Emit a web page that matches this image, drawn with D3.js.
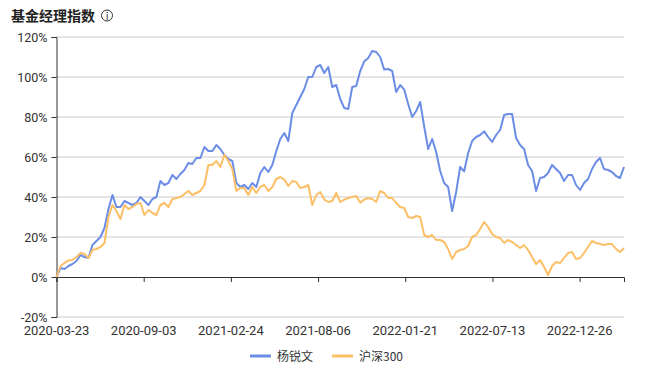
<!DOCTYPE html>
<html>
<head>
<meta charset="utf-8">
<script src="https://cdn.jsdelivr.net/npm/d3@7"></script>
<style>
  body { margin: 0; background: #fff; }
  text { font-family: "Microsoft YaHei", "Noto Sans CJK SC", "Noto Sans", sans-serif; }
  .num { font-family: Roboto, "Liberation Sans", sans-serif; }
</style>
</head>
<body>
<svg id="chart" width="652" height="374"></svg>
<script>
// tick labels on the date axis, one every 112 trading days
const dateTicks = ['2020-03-23', '2020-09-03', '2021-02-24', '2021-08-06', '2022-01-21', '2022-07-13', '2022-12-26'];
const tickEvery = 112;
const totalDays = 729;

const seriesNames = ['杨锐文', '沪深300'];

const manager = [
  0, 4.5, 4, 5.5, 6.5, 8, 11, 10, 9.5, 16,
  18, 20, 24.5, 34, 41, 35, 35, 38, 37, 36,
  37, 40, 38, 36, 39, 40, 48, 46, 47, 51,
  49, 51.5, 53.5, 57, 56.5, 59.5, 59.5, 65, 63, 63,
  66, 64, 61, 59, 58, 47, 45, 46, 44, 47,
  45, 52, 55, 52.5, 56, 63, 69, 72, 68, 82,
  86, 90, 94, 100, 100, 105, 106, 102, 105, 95,
  96, 89, 84.5, 84, 95, 95.5, 103, 107.8, 109.5, 113,
  112.5, 110, 103.7, 104, 103, 92.5, 96, 93.7, 86.5, 80,
  83, 87.5, 75.3, 64, 69, 62.5, 53, 47, 45, 33,
  42.5, 55, 52.8, 62, 68, 70, 71, 72.8, 70, 67.5,
  71, 73.5, 81, 81.5, 81.5, 69.5, 66, 64, 56, 53,
  43, 49.5, 50, 52, 56, 54, 52, 48, 51, 51,
  46, 43.5, 47, 49, 54, 57.5, 59.5, 54, 53.5, 52.5,
  50.5, 49.5, 55
];
const hs300 = [
  0, 5.5, 7, 8.3, 8.5, 10, 12, 11.5, 9.5, 13.5,
  14, 15, 17, 30, 36, 33, 29, 36, 34, 35,
  36.5, 37, 31, 33.5, 32, 31, 36, 37, 35, 39,
  39.5, 40, 41.5, 43, 41, 42, 43, 46, 56, 56,
  58, 55, 61, 58, 54, 43, 44.5, 44.5, 41, 45,
  42, 45, 46, 43, 45, 49, 50, 48.7, 45.5, 48,
  47.5, 44.5, 45, 46, 36, 41, 42.5, 38.7, 37.5, 38,
  42, 37.5, 38.7, 39.5, 40, 40.5, 37.2, 38.7, 39.5, 39,
  37.5, 43, 42, 39.5, 39.5, 37, 35, 34.5, 30, 29.5,
  30.5, 30, 21, 20, 21, 18.5, 18.5, 17.5, 14, 9,
  12.5, 13.5, 14, 15.5, 20, 21, 24, 27.5, 25, 21.5,
  20, 19.5, 17, 18.5, 17.5, 16, 14.5, 16, 13.5, 10,
  6.5, 8.5, 5, 1, 5.5, 7.5, 7, 9.5, 12, 12.5,
  9, 9.5, 12, 15, 18, 17, 16.5, 16, 16.5, 16.5,
  14, 12.5, 14.5
];

const yTicks = [-20, 0, 20, 40, 60, 80, 100, 120];
const colors = ['#6b8de6', '#fdbf66'];

const svg = d3.select('#chart');
const plotL = 56.5, plotR = 624, plotT = 37, plotB = 317;

const x = d3.scaleLinear().domain([0, totalDays]).range([plotL, plotR]);
const y = d3.scaleLinear().domain([-20, 120]).range([plotB, plotT]);
const dayOf = i => i * totalDays / (manager.length - 1);

// title + info icon
svg.append('text')
  .attr('x', 11).attr('y', 21)
  .attr('font-size', 14).attr('font-weight', 'bold')
  .attr('fill', '#222')
  .text('基金经理指数');
svg.append('circle')
  .attr('cx', 107).attr('cy', 15.5).attr('r', 5.5)
  .attr('fill', 'none').attr('stroke', '#333').attr('stroke-width', 1);
svg.append('text')
  .attr('x', 107).attr('y', 19.5)
  .attr('text-anchor', 'middle')
  .attr('font-size', 10).attr('fill', '#333')
  .text('i');

// horizontal grid lines
svg.append('g').selectAll('line')
  .data(yTicks.filter(d => d !== 0))
  .enter().append('line')
  .attr('x1', plotL).attr('x2', plotR)
  .attr('y1', d => y(d)).attr('y2', d => y(d))
  .attr('stroke', '#cccccc').attr('stroke-width', 1);

// y axis
const yAxis = svg.append('g')
  .attr('transform', `translate(${plotL},0)`)
  .call(d3.axisLeft(y).tickValues(yTicks).tickSize(5).tickPadding(4).tickFormat(d => d + '%'));
yAxis.select('.domain').attr('stroke', '#333');
yAxis.selectAll('.tick line').attr('stroke', '#333');
yAxis.selectAll('text').attr('class', 'num')
  .attr('font-size', 12.5).attr('fill', '#333');

// x axis sits on the 0% line, labels go under the plot
const xAxis = svg.append('g')
  .attr('transform', `translate(0,${y(0)})`)
  .call(d3.axisBottom(x).tickValues(dateTicks.map((d, i) => i * tickEvery))
    .tickSize(5).tickFormat(''));
xAxis.select('.domain').attr('stroke', '#333');
xAxis.selectAll('.tick line').attr('stroke', '#333');

svg.append('g').selectAll('text')
  .data(dateTicks)
  .enter().append('text')
  .attr('class', 'num')
  .attr('x', (d, i) => x(i * tickEvery))
  .attr('y', plotB + 18)
  .attr('text-anchor', 'middle')
  .attr('font-size', 13).attr('fill', '#333')
  .text(d => d);

// lines
const line = d3.line()
  .x((d, i) => x(dayOf(i)))
  .y(d => y(d));

[manager, hs300].forEach((s, k) => {
  svg.append('path')
    .datum(s)
    .attr('d', line)
    .attr('fill', 'none')
    .attr('stroke', colors[k])
    .attr('stroke-width', 2)
    .attr('stroke-linejoin', 'round');
});

// legend
const legendX = [250, 332];
const lg = svg.append('g').selectAll('g')
  .data(seriesNames)
  .enter().append('g')
  .attr('transform', (d, i) => `translate(${legendX[i]},356)`);
lg.append('line')
  .attr('x1', 0).attr('x2', 21)
  .attr('stroke', (d, i) => colors[i]).attr('stroke-width', 3);
lg.append('text')
  .attr('x', 27).attr('y', 4.5)
  .attr('font-size', 12).attr('fill', '#333')
  .text(d => d);
</script>
</body>
</html>
